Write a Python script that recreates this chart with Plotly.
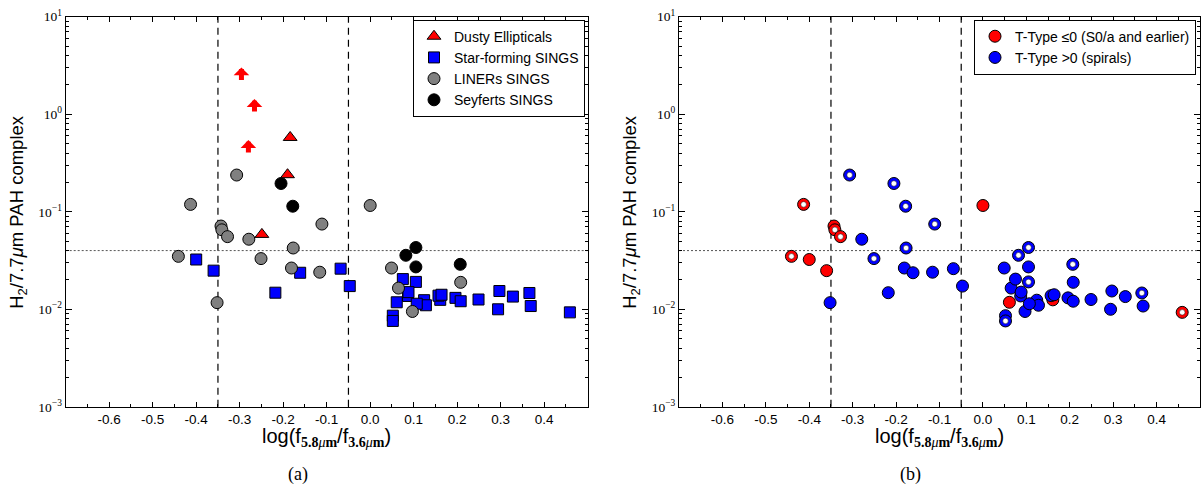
import numpy as np
import plotly.graph_objects as go

# ---------------- data ----------------
# x = log(f5.8/f3.6), y = H2 / 7.7um PAH complex
gal_x = [-0.307, -0.413, -0.343, -0.341, -0.328, -0.279, -0.177, -0.111, 0.000, -0.441,
         -0.251, -0.181, -0.116, -0.352, 0.049, 0.065, 0.208, 0.097,
         -0.205, -0.178, 0.082, 0.105, 0.105, 0.207,
         -0.400, -0.360, -0.218, -0.161, -0.068, -0.047, 0.075, 0.105, 0.061, 0.087,
         0.088, 0.124, 0.128, 0.107, 0.161, 0.157, 0.164, 0.196, 0.208, 0.249,
         0.297, 0.294, 0.328, 0.366, 0.369, 0.459, 0.052, 0.052]
gal_y = [0.238, 0.119, 0.0714, 0.0653, 0.0556, 0.0523, 0.0425, 0.0748, 0.116, 0.0349,
         0.0331, 0.0265, 0.0240, 0.0117, 0.0265, 0.0165, 0.0189, 0.0095,
         0.195, 0.114, 0.0358, 0.0430, 0.0272, 0.0289,
         0.0324, 0.0249, 0.0148, 0.0237, 0.0261, 0.0173, 0.0204, 0.0191, 0.0118, 0.0137,
         0.0150, 0.0124, 0.0110, 0.0114, 0.0125, 0.0138, 0.0141, 0.0131, 0.0121, 0.0126,
         0.0154, 0.0100, 0.0135, 0.0147, 0.0108, 0.0093, 0.0086, 0.0076]
gal_class = (["LINER"] * 18) + (["Seyfert"] * 6) + (["SF"] * 28)
gal_early = [0, 1, 1, 1, 1, 0, 0, 0, 1, 1, 0, 0, 0, 0, 0, 0, 0, 0,
             0, 0, 0, 0, 0, 0,
             1, 1, 0, 0, 0, 0, 0, 0, 1, 0, 0, 0, 0, 0, 1, 0, 0, 0, 0, 0,
             0, 0, 0, 0, 0, 1, 0, 0]
gal_open = [1, 1, 0, 1, 1, 0, 1, 1, 0, 1, 1, 0, 0, 0, 0, 0, 0, 0,
            1, 1, 1, 1, 0, 1,
            0, 0, 0, 0, 0, 0, 0, 1, 0, 0, 0, 0, 0, 0, 0, 0, 0, 0, 0, 0,
            0, 0, 0, 1, 0, 1, 0, 1]

# Dusty ellipticals: detections (triangles) and lower limits (arrows, tip values)
tri_x = [-0.190, -0.249, -0.184]
tri_y = [0.240, 0.0586, 0.578]
arrow_x = [-0.296, -0.266, -0.280]
arrow_y = [3.02, 1.43, 0.543]

vlines_x = [-0.35, -0.05]
hline_y = 0.04

x_ticks = [-0.6, -0.5, -0.4, -0.3, -0.2, -0.1, 0.0, 0.1, 0.2, 0.3, 0.4]
x_ticktext = ["-0.6", "-0.5", "-0.4", "-0.3", "-0.2", "-0.1", "0.0", "0.1", "0.2", "0.3", "0.4"]
x_minor = [-0.65, -0.55, -0.45, -0.35, -0.25, -0.15, -0.05, 0.05, 0.15, 0.25, 0.35, 0.45]
y_ticks = [1e-3, 1e-2, 1e-1, 1e0, 1e1]
y_ticktext = ["10<sup>−3</sup>", "10<sup>−2</sup>", "10<sup>−1</sup>", "10<sup>0</sup>", "10<sup>1</sup>"]
y_minor = [m * 10.0 ** k for k in range(-3, 1) for m in range(2, 10)]

# ---------------- figure ----------------
W, H = 1203, 494
gx = np.array(gal_x)
gy = np.array(gal_y)
gc = np.array(gal_class)
ge = np.array(gal_early, dtype=bool)
go_ = np.array(gal_open, dtype=bool)

fig = go.Figure()

edge = dict(color="black", width=1)

# ---- left panel ----
fig.add_trace(go.Scatter(x=gx[gc == "SF"], y=gy[gc == "SF"], mode="markers",
                         name="Star-forming SINGS", legendrank=2, legend="legend",
                         marker=dict(symbol="square", size=11, color="#0000ff", line=edge),
                         xaxis="x", yaxis="y"))
fig.add_trace(go.Scatter(x=gx[gc == "LINER"], y=gy[gc == "LINER"], mode="markers",
                         name="LINERs SINGS", legendrank=3, legend="legend",
                         marker=dict(symbol="circle", size=12, color="#808080", line=edge),
                         xaxis="x", yaxis="y"))
fig.add_trace(go.Scatter(x=gx[gc == "Seyfert"], y=gy[gc == "Seyfert"], mode="markers",
                         name="Seyferts SINGS", legendrank=4, legend="legend",
                         marker=dict(symbol="circle", size=12, color="black", line=edge),
                         xaxis="x", yaxis="y"))
fig.add_trace(go.Scatter(x=tri_x, y=tri_y, mode="markers",
                         name="Dusty Ellipticals", legendrank=1, legend="legend",
                         marker=dict(symbol="triangle-up", size=12, color="#ff0000", line=edge),
                         xaxis="x", yaxis="y"))

# ---- right panel ----
fig.add_trace(go.Scatter(x=gx[ge], y=gy[ge], mode="markers",
                         name="T-Type ≤0 (S0/a and earlier)", legend="legend2", legendrank=1,
                         marker=dict(symbol="circle", size=12, color="#ff0000", line=edge),
                         xaxis="x2", yaxis="y2"))
fig.add_trace(go.Scatter(x=gx[~ge], y=gy[~ge], mode="markers",
                         name="T-Type >0 (spirals)", legend="legend2", legendrank=2,
                         marker=dict(symbol="circle", size=12, color="#0000ff", line=edge),
                         xaxis="x2", yaxis="y2"))
fig.add_trace(go.Scatter(x=gx[go_], y=gy[go_], mode="markers", showlegend=False,
                         marker=dict(symbol="circle", size=5.5, color="white",
                                     line=dict(color="#222222", width=0.5)),
                         xaxis="x2", yaxis="y2"))

# ---- axes ----
dom_y = [1 - 412 / H, 1 - 8 / H]
dom_x1 = [65.7 / W, 587.7 / W]
dom_x2 = [679 / W, 1200 / W]

def xax(domain, anchor):
    return dict(domain=domain, anchor=anchor, range=[-0.7, 0.5],
                tickmode="array", tickvals=x_ticks, ticktext=x_ticktext,
                ticks="inside", ticklen=5, tickwidth=1, tickcolor="black",
                showline=True, linecolor="black", linewidth=1.2, mirror="allticks",
                showgrid=False, zeroline=False,
                tickfont=dict(family="Liberation Sans", size=13.5, color="black"),
                minor=dict(tickvals=x_minor, ticks="inside", ticklen=3, tickwidth=1,
                           tickcolor="black", showgrid=False))

def yax(anchor):
    return dict(domain=dom_y, anchor=anchor, type="log", range=[-3, 1],
                tickmode="array", tickvals=y_ticks, ticktext=y_ticktext,
                ticks="inside", ticklen=6, tickwidth=1, tickcolor="black",
                showline=True, linecolor="black", linewidth=1.2, mirror="allticks",
                showgrid=False, zeroline=False, ticklabeloverflow="allow",
                tickfont=dict(family="Liberation Serif", size=13.5, color="black"),
                minor=dict(tickvals=y_minor, ticks="inside", ticklen=3, tickwidth=1,
                           tickcolor="black", showgrid=False))

fig.update_layout(
    width=W, height=H,
    margin=dict(l=0, r=0, t=0, b=0),
    paper_bgcolor="white", plot_bgcolor="white",
    xaxis=xax(dom_x1, "y"), yaxis=yax("x"),
    xaxis2=xax(dom_x2, "y2"), yaxis2=yax("x2"),
    legend=dict(x=585 / W, y=1 - 11 / H, xanchor="right", yanchor="top",
                bordercolor="black", borderwidth=1, bgcolor="white",
                font=dict(family="Liberation Sans", size=14, color="black"),
                traceorder="normal", tracegroupgap=0),
    legend2=dict(x=1196 / W, y=1 - 11 / H, xanchor="right", yanchor="top",
                 bordercolor="black", borderwidth=1, bgcolor="white",
                 font=dict(family="Liberation Sans", size=14, color="black"),
                 traceorder="normal", tracegroupgap=0),
)

# reference lines
for xr, yr in (("x", "y"), ("x2", "y2")):
    for xv in vlines_x:
        fig.add_shape(type="line", xref=xr, yref=yr + " domain", x0=xv, x1=xv, y0=0, y1=1,
                      line=dict(color="black", width=1.2, dash="7px,5px"), layer="below")
    fig.add_shape(type="line", xref=xr + " domain", yref=yr, x0=0, x1=1, y0=hline_y, y1=hline_y,
                  line=dict(color="#555555", width=1, dash="2px,2px"), layer="below")

# lower-limit arrows for dusty ellipticals
for ax_x, ax_y in zip(arrow_x, arrow_y):
    fig.add_annotation(x=ax_x, y=np.log10(ax_y), xref="x", yref="y", text="",
                       showarrow=True, ax=0, ay=14, arrowhead=1, arrowsize=0.52,
                       arrowwidth=5, arrowcolor="#ff0000")

# titles / captions
xtitle = ("log(f<sub><span style='font-family:Liberation Serif'><b>5.8</b><i>μ</i><b>m</b></span></sub>"
          "/f<sub><span style='font-family:Liberation Serif'><b>3.6</b><i>μ</i><b>m</b></span></sub>)")
ytitle = "H<sub>2</sub>/7.7<i>μ</i>m PAH complex"
for cx, ylx, cap, capx in ((326.7, 18, "(a)", 298), (939.5, 631, "(b)", 910)):
    fig.add_annotation(x=cx / W, y=1 - 444 / H, xref="paper", yref="paper", text=xtitle,
                       showarrow=False, xanchor="center", yanchor="middle",
                       font=dict(family="Liberation Sans", size=20, color="black"))
    fig.add_annotation(x=ylx / W, y=1 - 210 / H, xref="paper", yref="paper", text=ytitle,
                       textangle=-90, showarrow=False, xanchor="center", yanchor="middle",
                       font=dict(family="Liberation Sans", size=18.5, color="black"))
    fig.add_annotation(x=capx / W, y=1 - 482 / H, xref="paper", yref="paper", text=cap,
                       showarrow=False, xanchor="center", yanchor="middle",
                       font=dict(family="Liberation Serif", size=18, color="black"))

fig.write_html("out.html")
